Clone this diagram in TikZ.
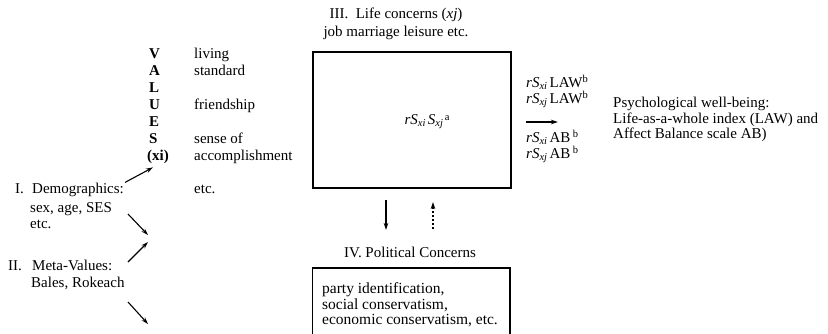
\documentclass[tikz,border=0pt]{standalone}
\usepackage{fontspec}
\setmainfont{Liberation Serif}
\usetikzlibrary{arrows.meta}
\newcommand{\sbx}[1]{\raisebox{-0.3ex}{\fontsize{10.5}{11}\selectfont\textit{#1}}}
\newcommand{\spx}[1]{\raisebox{0.7ex}{\fontsize{10.5}{11}\selectfont #1}}
\begin{document}
\begin{tikzpicture}[x=1pt,y=-1pt,
  txt/.style={font=\fontsize{15}{17}\selectfont,inner sep=0pt,anchor=base west},
  ctr/.style={font=\fontsize{15}{18}\selectfont,inner sep=0pt,align=center},
  arr/.style={line width=1.1pt,-{Stealth[length=7pt,width=4.5pt]}},
  frame/.style={line width=1.3pt}]
\useasboundingbox (0,0) rectangle (828,333);
% VALUES column
\node[txt] (vV) at (149,58) {\textbf{V}};
\node[txt] (vA) at (149,75) {\textbf{A}};
\node[txt] (vL) at (149,92) {\textbf{L}};
\node[txt] (vU) at (149,109) {\textbf{U}};
\node[txt] (vE) at (149,126) {\textbf{E}};
\node[txt] (vS) at (149,143) {\textbf{S}};
\node[txt] (vx) at (147,160) {\textbf{(xi)}};
\node[txt] (w1) at (194,58) {living};
\node[txt] (w2) at (194,75) {standard};
\node[txt] (w3) at (194,109) {friendship};
\node[txt] (w4) at (194,143) {sense of};
\node[txt] (w5) at (194,160) {accomplishment};
\node[txt] (w6) at (194,193) {etc.};
% left blocks
\node[txt] (dem) at (15,193) {\makebox[17pt][l]{I.}Demographics:};
\node[txt] (dem2) at (30,212) {sex, age, SES};
\node[txt] (dem3) at (30,228) {etc.};
\node[txt] (meta) at (8,270) {\makebox[24pt][l]{II.}Meta-Values:};
\node[txt] (meta2) at (31,287) {Bales, Rokeach};
\coordinate (a2s) at (128,214);
\coordinate (a2e) at (148,235);
\coordinate (a3s) at (128,262);
\coordinate (a3e) at (148,242);
\coordinate (a4s) at (128,302);
\coordinate (a4e) at (148,324);
\draw[arr] ([shift={(1,0)}]dem.north east) -- ([shift={(6,4)}]vx.south west);
\draw[arr] (a2s) -- (a2e);
\draw[arr] (a3s) -- (a3e);
\draw[arr] (a4s) -- (a4e);
% III
\node[ctr] (t3) at (396,24) {III.\ \ Life concerns (\textit{xj})\\job marriage leisure etc.};
\node[draw,frame,minimum width=198pt,minimum height=136pt,inner sep=0pt] (box3) at (412,120) {};
\node[font=\fontsize{15}{17}\selectfont,inner sep=0pt] (rss) at (427,122) {\textit{rS}\sbx{xi}\,\textit{S}\sbx{xj}\spx{\,a}};
% arrows between III and IV
\coordinate (dA) at (386,200);
\coordinate (dB) at (386,230);
\coordinate (uA) at (433,229);
\coordinate (uB) at (433,202);
\draw[arr] (dA) -- (dB);
\draw[arr,dash pattern=on 2pt off 2pt] (uA) -- (uB);
% IV
\node[ctr] (t4) at (410,252) {IV. Political Concerns};
\coordinate (b4a) at (312.5,334);
\coordinate (b4b) at (312.5,268);
\coordinate (b4c) at (510,268);
\coordinate (b4d) at (510,334);
\draw[frame] (b4a) -- (b4b) -- (b4c) -- (b4d);
\node[font=\fontsize{15.5}{15}\selectfont,inner sep=0pt,anchor=north west,align=left] (pol) at (322,282.5) {\strut party identification,\\social conservatism,\\economic conservatism, etc.};
% right side
\node[txt] (r1) at (526,87) {\textit{rS}\sbx{xi}\,LAW\spx{b}};
\node[txt] (r2) at (526,103) {\textit{rS}\sbx{xj}\,LAW\spx{b}};
\node[txt] (r3) at (526,142) {\textit{rS}\sbx{xi}\,AB\,\spx{b}};
\node[txt] (r4) at (526,158) {\textit{rS}\sbx{xj}\,AB\,\spx{b}};
\coordinate (ra1) at (526,122);
\coordinate (ra2) at (558,122);
\draw[arr] (ra1) -- (ra2);
\node[font=\fontsize{15}{15}\selectfont,inner sep=0pt,anchor=north west,align=left] (psy) at (613,96.5) {\strut Psychological well-being:\\Life-as-a-whole index (LAW) and\\Affect Balance scale AB)};
\end{tikzpicture}
\end{document}
